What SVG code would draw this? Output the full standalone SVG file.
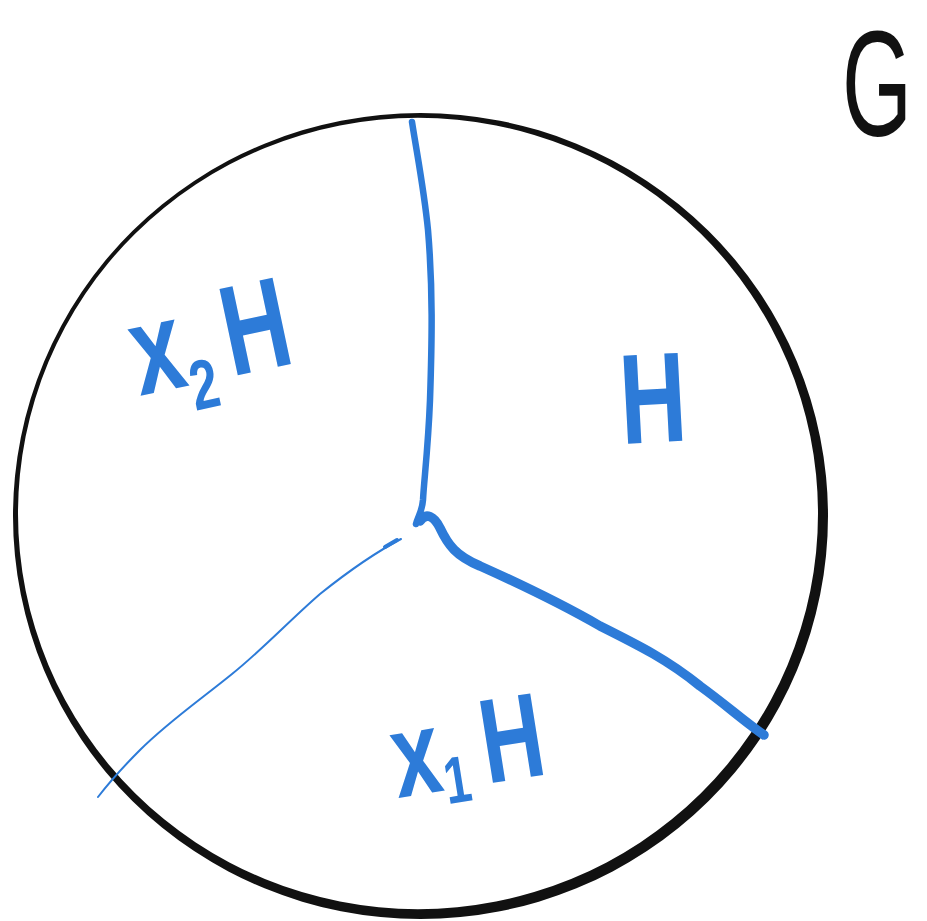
<svg xmlns="http://www.w3.org/2000/svg" width="927" height="921" viewBox="0 0 927 921">
<style>
.blue{fill:#2d7bd8;font-family:"Liberation Sans",Arial,sans-serif;font-weight:bold}
.ln{fill:none;stroke:#2d7bd8;stroke-linecap:round;stroke-linejoin:round}
</style>
<rect width="927" height="921" fill="#ffffff"/>
<g id="circle">
<path fill="#111111" fill-rule="evenodd" d="M13,516 a407.5,403 0 1,0 815,0 a407.5,403 0 1,0 -815,0 Z M18,513.5 a400,395.5 0 1,0 800,0 a400,395.5 0 1,0 -800,0 Z"/>
</g>
<g id="connectors">
<path class="ln" stroke-width="6.5" d="M412,122 C418,160 424,190 428,230 C433,290 432,340 430,400 C428,450 424,480 423,500 C422,512 418,516 416,524"/>
<path class="ln" stroke-width="9.5" d="M420,521 C426,512 434,516 440,528 C448,545 456,556 480,566 C520,584 560,603 600,626 C640,646 668,660 700,686 C725,704 745,722 764,735"/>
<path class="ln" stroke-width="2" d="M401,539 C380,550 350,570 320,594 C290,620 262,650 232,674 C200,700 168,722 140,750 C120,770 108,784 98,797"/>
<path class="ln" stroke-width="4" d="M385,547 L397,540"/>
</g>
<g id="label-x2H">
<text class="blue" transform="translate(140,396) rotate(-12) scale(0.72,1)" font-size="128">x<tspan font-size="70" dy="26">2</tspan><tspan dy="-26" dx="20">H</tspan></text>
</g>
<g id="label-H">
<text class="blue" transform="translate(622,444) rotate(-3) scale(0.72,1)" font-size="128">H</text>
</g>
<g id="label-x1H">
<text class="blue" transform="translate(398,798) rotate(-9) scale(0.72,1)" font-size="120">x<tspan font-size="66" dy="14">1</tspan><tspan dy="-14" dx="22">H</tspan></text>
</g>
<g id="label-G">
<text transform="translate(842,136) scale(0.6,1)" font-size="150" fill="#111111" font-family="Liberation Sans,Arial,sans-serif">G</text>
</g>
</svg>
